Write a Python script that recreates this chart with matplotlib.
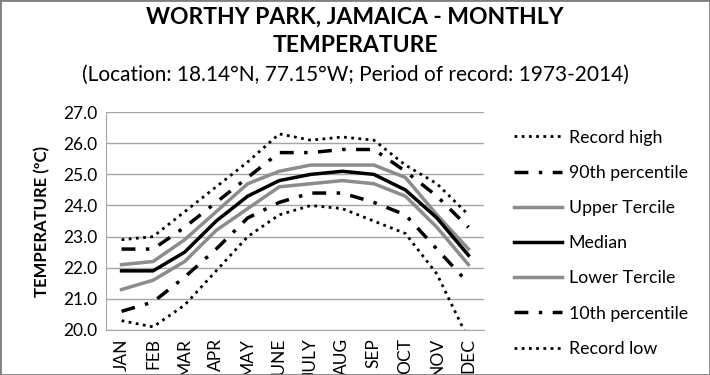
import matplotlib.pyplot as plt
from matplotlib.patches import Rectangle

plt.rcParams['font.family'] = ['Lato', 'DejaVu Sans']

months = ['JAN', 'FEB', 'MAR', 'APR', 'MAY', 'JUNE', 'JULY', 'AUG', 'SEP', 'OCT', 'NOV', 'DEC']

record_high = [22.9, 23.0, 23.8, 24.6, 25.4, 26.3, 26.1, 26.2, 26.1, 25.3, 24.7, 23.7]
p90 = [22.6, 22.6, 23.3, 24.1, 24.9, 25.7, 25.7, 25.8, 25.8, 25.1, 24.3, 23.3]
upper_tercile = [22.1, 22.2, 22.9, 23.8, 24.7, 25.1, 25.3, 25.3, 25.3, 24.9, 23.7, 22.6]
median = [21.9, 21.9, 22.5, 23.5, 24.3, 24.8, 25.0, 25.1, 25.0, 24.5, 23.6, 22.4]
lower_tercile = [21.3, 21.6, 22.2, 23.2, 23.9, 24.6, 24.7, 24.8, 24.7, 24.3, 23.3, 22.1]
p10 = [20.6, 20.9, 21.7, 22.6, 23.6, 24.1, 24.4, 24.4, 24.1, 23.7, 22.6, 21.5]
record_low = [20.3, 20.1, 20.8, 21.9, 23.0, 23.7, 24.0, 23.9, 23.5, 23.1, 21.8, 19.7]

yticks = [20.0, 21.0, 22.0, 23.0, 24.0, 25.0, 26.0, 27.0]

fig = plt.figure(figsize=(7.1, 3.75), dpi=100)
ax = fig.add_axes([0.149, 0.12, 0.533, 0.581])

x = range(len(months))
dot = (0, (1, 1.6))
dashdot = (0, (4, 3, 1, 3))

ax.plot(x, record_high, color='black', lw=2, linestyle=dot, label='Record high')
ax.plot(x, p90, color='black', lw=2.5, linestyle=dashdot, label='90th percentile')
ax.plot(x, upper_tercile, color='#8c8c8c', lw=2.5, label='Upper Tercile')
ax.plot(x, median, color='black', lw=2.5, label='Median')
ax.plot(x, lower_tercile, color='#8c8c8c', lw=2.5, label='Lower Tercile')
ax.plot(x, p10, color='black', lw=2.5, linestyle=dashdot, label='10th percentile')
ax.plot(x, record_low, color='black', lw=2, linestyle=dot, label='Record low')

ax.set_xlim(-0.5, len(months) - 0.5)
ax.set_ylim(20, 27)
ax.set_yticks(yticks)
ax.set_yticklabels(['%.1f' % v for v in yticks], fontsize=12.5)
ax.set_xticks(list(x))
ax.set_xticklabels(months, rotation=90, fontsize=12.5)
ax.tick_params(length=0, pad=6)
ax.yaxis.grid(True, color='#a6a6a6', lw=1)
ax.set_axisbelow(True)
for s in ['top', 'right']:
    ax.spines[s].set_visible(False)
for s in ['left', 'bottom']:
    ax.spines[s].set_color('#a6a6a6')

ax.set_ylabel('TEMPERATURE (ºC)', fontsize=12, fontweight='bold', labelpad=9)

fig.text(0.5, 0.955, 'WORTHY PARK, JAMAICA - MONTHLY', ha='center', va='center',
         fontsize=16.5, fontweight='bold')
fig.text(0.5, 0.88, 'TEMPERATURE', ha='center', va='center',
         fontsize=16.5, fontweight='bold')
fig.text(0.5, 0.8, '(Location: 18.14°N, 77.15°W; Period of record: 1973-2014)',
         ha='center', va='center', fontsize=15)

fig.legend(loc='upper left', bbox_to_anchor=(0.702, 0.697), frameon=False,
           fontsize=12.8, handlelength=2.7, handletextpad=0.35, labelspacing=1.08)

fig.patches.append(Rectangle((0, 0), 1, 1, transform=fig.transFigure, fill=False,
                             edgecolor='#808080', lw=2))

fig.savefig('out.png', dpi=100)
